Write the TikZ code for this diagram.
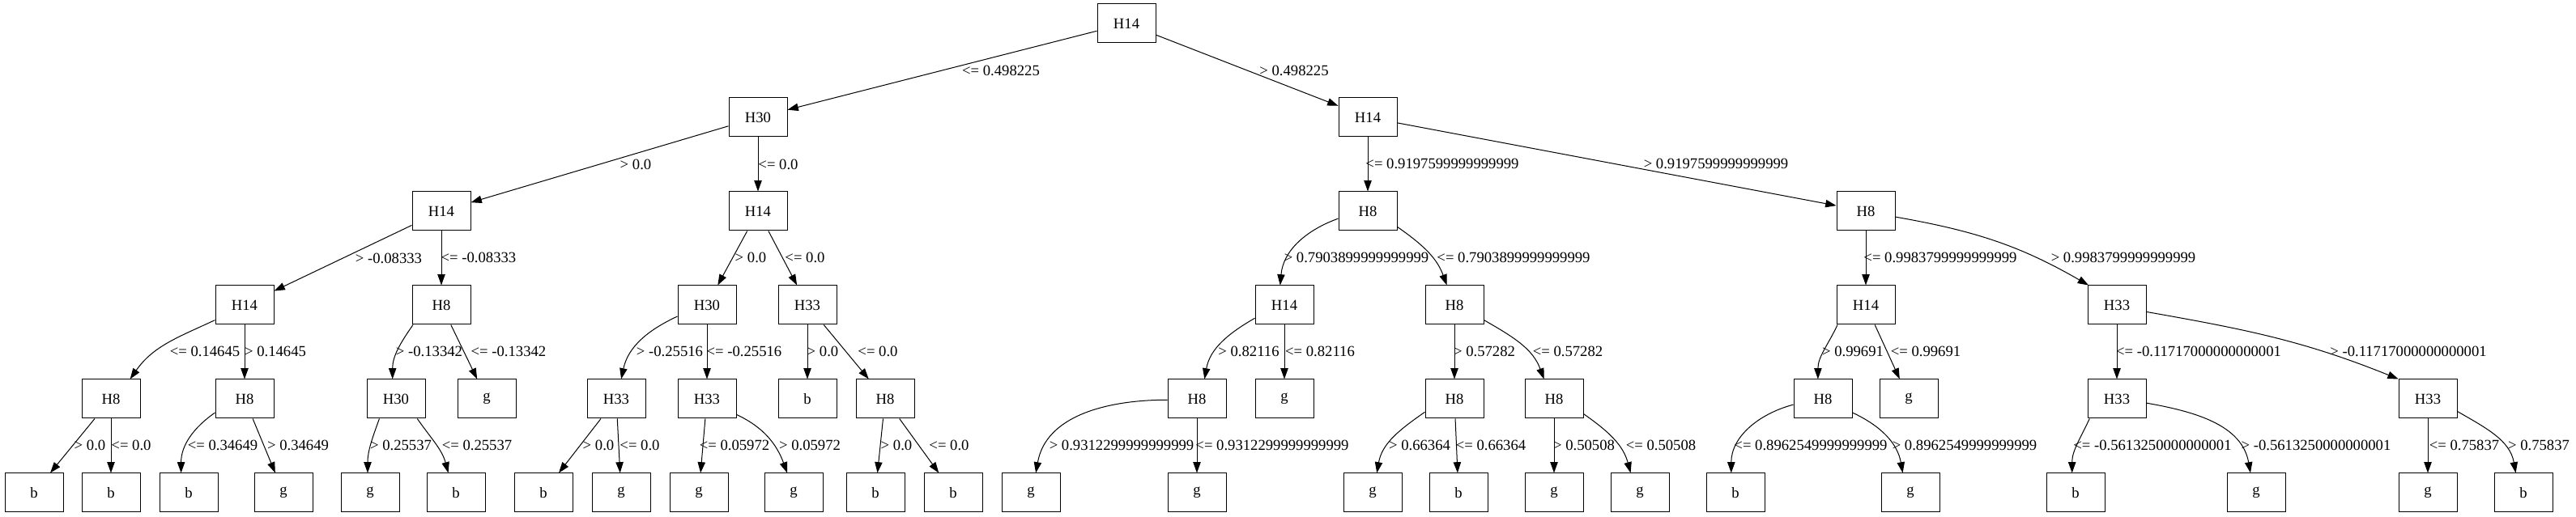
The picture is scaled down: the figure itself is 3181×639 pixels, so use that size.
\documentclass[tikz,border=0pt]{standalone}
\usepackage{fontspec}
\setmainfont{Liberation Serif}
\usepackage{tikz}
\usetikzlibrary{arrows.meta}
\tikzstyle{attr}=[draw,rectangle,line width=0.75pt,minimum width=54pt,minimum height=36pt,inner sep=0pt,font=\fontsize{14pt}{16pt}\selectfont]
\tikzstyle{edge}=[draw,line width=0.75pt,-{Triangle[length=10pt,width=7pt]}]
\tikzstyle{cond}=[inner sep=0pt,font=\fontsize{14pt}{16pt}\selectfont]

\begin{document}
\begin{tikzpicture}[x=0.75pt,y=0.75pt]
    \useasboundingbox (0,0) rectangle (3181,639);
    % Decision tree on H8, H14, H30, H33
    % First we draw the tests and the leaves
    \foreach \pos/\name/\txt in {{(1391,610)/n0/H14},
        {(936,494)/n1/H30}, {(1689,494)/n2/H14},
        {(545,378)/n3/H14}, {(936,378)/n4/H14}, {(1689,378)/n5/H8}, {(2304,378)/n6/H8},
        {(302,262)/n7/H14}, {(545,262)/n8/H8}, {(873,262)/n9/H30}, {(997,262)/n10/H33},
        {(1586,262)/n11/H14}, {(1796,262)/n12/H8}, {(2304,262)/n13/H14}, {(2614,262)/n14/H33},
        {(137,146)/n15/H8}, {(302,146)/n16/H8}, {(489,146)/n17/H30}, {(601,146)/n18/g},
        {(761,146)/n19/H33}, {(873,146)/n20/H33}, {(997,146)/n21/b}, {(1093,146)/n22/H8},
        {(1478,146)/n23/H8}, {(1586,146)/n24/g}, {(1796,146)/n25/H8}, {(1919,146)/n26/H8},
        {(2251,146)/n27/H8}, {(2357,146)/n28/g}, {(2614,146)/n29/H33}, {(2998,146)/n30/H33},
        {(42,30)/n31/b}, {(137,30)/n32/b}, {(233,30)/n33/b}, {(350,30)/n34/g},
        {(457,30)/n35/g}, {(563,30)/n36/b}, {(671,30)/n37/b}, {(767,30)/n38/g},
        {(863,30)/n39/g}, {(980,30)/n40/g}, {(1081,30)/n41/b}, {(1177,30)/n42/b},
        {(1273,30)/n43/g}, {(1478,30)/n44/g}, {(1695,30)/n45/g}, {(1801,30)/n46/b},
        {(1919,30)/n47/g}, {(2025,30)/n48/g}, {(2143,30)/n49/b}, {(2359,30)/n50/g},
        {(2563,30)/n51/b}, {(2786,30)/n52/g}, {(2998,30)/n53/g}, {(3116,30)/n54/b}}
        \node[attr] (\name) at \pos {\txt};
    % Straight branches with their conditions
    \foreach \source/\dest/\lpos/\txt in {{n0/n1/(1236,552)/<= 0.498225}, {n0/n2/(1598,552)/> 0.498225},
        {n1/n3/(785,436)/> 0.0}, {n1/n4/(961,436)/<= 0.0},
        {n2/n5/(1781,437)/<= 0.9197599999999999}, {n2/n6/(2119,437)/> 0.9197599999999999},
        {n3/n7/(480,320)/> -0.08333}, {n3/n8/(591,321)/<= -0.08333},
        {n4/n9/(927,321)/> 0.0}, {n4/n10/(994,321)/<= 0.0},
        {n6/n13/(2396,321)/<= 0.9983799999999999},
        {n7/n16/(340,205)/> 0.14645}, {n8/n18/(628,205)/<= -0.13342},
        {n9/n20/(919,205)/<= -0.25516}, {n10/n21/(1016,205)/> 0.0}, {n10/n22/(1084,205)/<= 0.0},
        {n11/n24/(1630,205)/<= 0.82116}, {n12/n25/(1833,205)/> 0.57282},
        {n13/n28/(2378,205)/<= 0.99691}, {n14/n29/(2715,205)/<= -0.11717000000000001},
        {n15/n31/(111,89)/> 0.0}, {n15/n32/(162,89)/<= 0.0}, {n16/n34/(368,89)/> 0.34649},
        {n19/n37/(739,89)/> 0.0}, {n19/n38/(790,89)/<= 0.0}, {n20/n39/(907,89)/<= 0.05972},
        {n22/n41/(1107,89)/> 0.0}, {n22/n42/(1172,89)/<= 0.0},
        {n23/n44/(1571,89)/<= 0.9312299999999999}, {n25/n46/(1841,89)/<= 0.66364},
        {n26/n47/(1956,89)/> 0.50508}, {n30/n53/(3043,89)/<= 0.75837}}
        {
        \path[edge] (\source) -- (\dest);
        \node[cond] (l\dest) at \lpos {\txt};
        }
    % Bent branches: start anchor, out, in, end anchor
    \foreach \source/\sa/\o/\i/\dest/\ea/\lpos/\txt in {
        {n5/194/200/85/n11/102/(1675,321)/> 0.7903899999999999},
        {n5/332/325/110/n12/111/(1869,321)/<= 0.7903899999999999},
        {n6/349/350/150/n14/145/(2622,321)/> 0.9983799999999999},
        {n7/207/205/55/n15/46/(253,205)/<= 0.14645},
        {n8/215/235/90/n17/100/(530,205)/> -0.13342},
        {n9/201/205/78/n19/76/(827,205)/> -0.25516},
        {n11/204/210/80/n23/69/(1542,205)/> 0.82116},
        {n12/333/330/110/n26/117/(1936,205)/<= 0.57282},
        {n13/215/245/90/n27/104/(2288,205)/> 0.99691},
        {n14/347/350/158/n30/146/(2974,205)/> -0.11717000000000001},
        {n16/205/215/90/n33/111/(275,89)/<= 0.34649},
        {n17/230/250/90/n35/97/(495,89)/> 0.25537},
        {n17/317/305/105/n36/111/(589,89)/<= 0.25537},
        {n20/332/335/110/n40/108/(1000,89)/> 0.05972},
        {n23/182/180/80/n43/76/(1385,89)/> 0.9312299999999999},
        {n25/204/215/80/n45/78/(1753,89)/> 0.66364},
        {n26/333/325/105/n48/115/(2051,89)/<= 0.50508},
        {n27/191/195/90/n49/102/(2236,89)/<= 0.8962549999999999},
        {n27/335/335/100/n50/111/(2426,89)/> 0.8962549999999999},
        {n29/216/245/90/n51/100/(2658,89)/<= -0.5613250000000001},
        {n29/352/350/100/n52/106/(2860,89)/> -0.5613250000000001},
        {n30/337/330/100/n54/111/(3135,89)/> 0.75837}}
        {
        \path[edge] (\source.\sa) to[out=\o,in=\i] (\dest.\ea);
        \node[cond] (l\dest) at \lpos {\txt};
        }
\end{tikzpicture}
\end{document}
